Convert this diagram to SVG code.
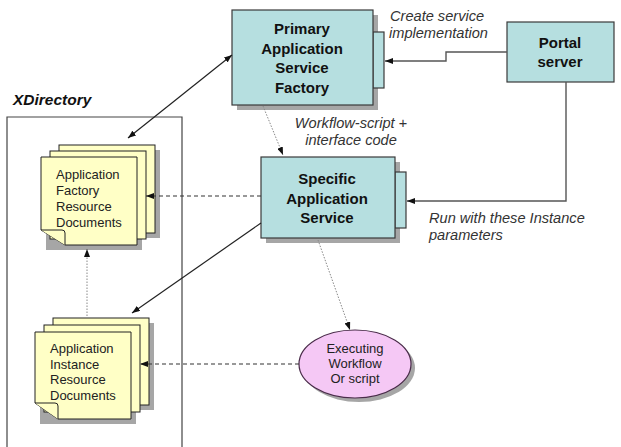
<svg xmlns="http://www.w3.org/2000/svg" width="621" height="447" viewBox="0 0 621 447">
  <style>
    .box { fill: #b6dfe0; stroke: #3a3a3a; stroke-width: 1.2; }
    .shadow { fill: #a6a6a6; }
    .page { fill: #ffffc6; stroke: #222; stroke-width: 1; }
    .title { font-family: "Liberation Sans", Arial, sans-serif; font-weight: bold; font-size: 15px; fill: #111; text-anchor: middle; }
    .doc { font-family: "Liberation Sans", Arial, sans-serif; font-size: 13px; fill: #222; }
    .label { font-family: "Liberation Sans", Arial, sans-serif; font-style: italic; font-size: 14.6px; fill: #333; }
    .solid { fill: none; stroke: #222; stroke-width: 1.2; }
    .elbow { fill: none; stroke: #555; stroke-width: 1.4; }
    .dotted { fill: none; stroke: #888; stroke-width: 1; stroke-dasharray: 1.5 1.5; }
    .dashed { fill: none; stroke: #333; stroke-width: 1.2; stroke-dasharray: 4 3; }
  </style>
  <defs>
    <marker id="arrow" viewBox="0 0 8 6" refX="8" refY="3" markerWidth="8" markerHeight="6" markerUnits="userSpaceOnUse" orient="auto-start-reverse">
      <path d="M0,0 L8,3 L0,6 Z" fill="#111"/>
    </marker>
  </defs>

  <!-- XDirectory container -->
  <g id="xdirectory">
    <text x="13" y="105" font-family="Liberation Sans, Arial, sans-serif" font-weight="bold" font-style="italic" font-size="15.5" fill="#111">XDirectory</text>
    <path d="M7,452 V117 H182 V452" fill="none" stroke="#444" stroke-width="1.2"/>
  </g>

  <!-- Primary Application Service Factory -->
  <g id="primary-factory">
    <rect class="shadow" x="237" y="15" width="141" height="95"/>
    <rect class="box" x="373" y="32" width="11" height="56"/>
    <rect class="box" x="232" y="10" width="141" height="95"/>
    <text class="title" x="302" y="34">Primary</text>
    <text class="title" x="302" y="54">Application</text>
    <text class="title" x="302" y="73">Service</text>
    <text class="title" x="302" y="93">Factory</text>
  </g>

  <!-- Portal server -->
  <g id="portal-server">
    <rect class="box" x="507" y="22" width="107" height="60"/>
    <text class="title" x="560" y="48">Portal</text>
    <text class="title" x="560" y="67">server</text>
  </g>

  <!-- Specific Application Service -->
  <g id="specific-service">
    <rect class="shadow" x="266" y="162" width="134" height="81"/>
    <rect class="box" x="395" y="172" width="11" height="56"/>
    <rect class="box" x="261" y="157" width="134" height="81"/>
    <text class="title" x="327" y="184">Specific</text>
    <text class="title" x="327" y="204">Application</text>
    <text class="title" x="327" y="223">Service</text>
  </g>

  <!-- Application Factory Resource Documents -->
  <g id="factory-docs">
    <rect class="shadow" x="64" y="150" width="96" height="88"/>
    <rect class="shadow" x="46" y="162" width="96" height="88"/>
    <rect class="page" x="59" y="145" width="96" height="88"/>
    <rect class="page" x="50" y="151" width="96" height="88"/>
    <path class="page" d="M41,157 H137 V245 H65 L41,230 Z"/>
    <path class="page" d="M41,230 H62 Q65,230 65,233 V245"/>
    <text class="doc" x="56" y="179">Application</text>
    <text class="doc" x="56" y="195">Factory</text>
    <text class="doc" x="56" y="211">Resource</text>
    <text class="doc" x="56" y="227">Documents</text>
  </g>

  <!-- Application Instance Resource Documents -->
  <g id="instance-docs">
    <rect class="shadow" x="58" y="323" width="96" height="87"/>
    <rect class="shadow" x="40" y="337" width="96" height="87"/>
    <rect class="page" x="53" y="318" width="96" height="87"/>
    <rect class="page" x="44" y="325" width="96" height="87"/>
    <path class="page" d="M35,332 H131 V419 H58 L35,403 Z"/>
    <path class="page" d="M35,403 H55 Q58,403 58,406 V419"/>
    <text class="doc" x="50" y="353">Application</text>
    <text class="doc" x="50" y="369">Instance</text>
    <text class="doc" x="50" y="384">Resource</text>
    <text class="doc" x="50" y="400">Documents</text>
  </g>

  <!-- Executing Workflow -->
  <g id="executing-workflow">
    <ellipse cx="359" cy="368" rx="56" ry="34" fill="#a6a6a6"/>
    <ellipse cx="355" cy="364" rx="56" ry="34" fill="#f5c8f5" stroke="#4a2c4a" stroke-width="1.2"/>
    <text class="doc" x="355" y="353" text-anchor="middle">Executing</text>
    <text class="doc" x="355" y="368" text-anchor="middle">Workflow</text>
    <text class="doc" x="355" y="383" text-anchor="middle">Or script</text>
  </g>

  <!-- Connectors -->
  <g id="connectors">
    <path class="elbow" d="M507,52 H446 V61 H385" marker-end="url(#arrow)"/>
    <path class="elbow" d="M566,82 V201 H407" marker-end="url(#arrow)"/>
    <path class="solid" d="M128,138 L232,55" marker-start="url(#arrow)" marker-end="url(#arrow)"/>
    <path class="solid" d="M261,223 L132,313" marker-end="url(#arrow)"/>
    <path class="dashed" d="M261,196 H146" marker-end="url(#arrow)"/>
    <path class="dashed" d="M299,364 H140" marker-end="url(#arrow)"/>
    <path class="dotted" d="M263,106 L283,155" marker-end="url(#arrow)"/>
    <path class="dotted" d="M318,240 L350,330" marker-end="url(#arrow)"/>
    <path class="dotted" d="M87,316 V249" marker-end="url(#arrow)"/>
  </g>

  <!-- Connector labels -->
  <g id="labels">
    <text class="label" x="390" y="21">Create service</text>
    <text class="label" x="389" y="38">implementation</text>
    <text class="label" x="351" y="128" text-anchor="middle">Workflow-script +</text>
    <text class="label" x="351" y="145" text-anchor="middle">interface code</text>
    <text class="label" x="429" y="223">Run with these Instance</text>
    <text class="label" x="429" y="240">parameters</text>
  </g>
</svg>
